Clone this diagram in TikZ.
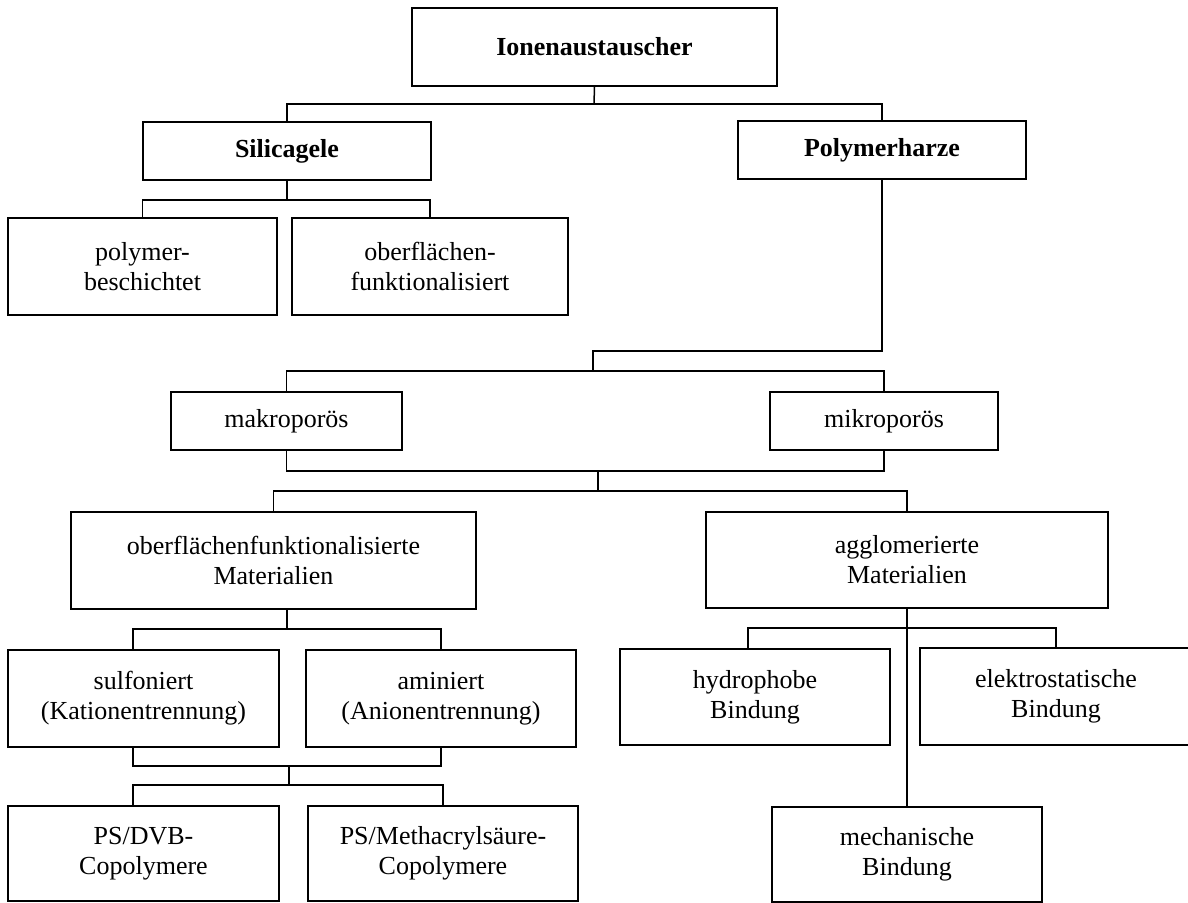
\documentclass[tikz,border=0pt]{standalone}
\usepackage{fontspec}
\setmainfont{Liberation Serif}
\begin{document}
\begin{tikzpicture}[x=1pt,y=-1pt,
  box/.style={draw, line width=1.5pt, inner sep=0pt, align=center,
    font=\fontsize{26}{30}\selectfont},
  conn/.style={line width=1.5pt}]
\useasboundingbox (0,0) rectangle (1188,902);
% nodes
\node[box, font=\fontsize{26}{30}\selectfont\bfseries, minimum width=365, minimum height=78] (ion) at (594.5,47) {Ionenaustauscher};
\node[box, font=\fontsize{26}{30}\selectfont\bfseries, minimum width=288, minimum height=58] (sil) at (287,151) {Silicagele};
\node[box, font=\fontsize{26}{30}\selectfont\bfseries, minimum width=288, minimum height=58] (poly) at (882,150) {Polymerharze};
\node[box, minimum width=269, minimum height=97] (pb) at (142.5,266.5) {polymer-\\beschichtet};
\node[box, minimum width=276, minimum height=97] (of) at (430,266.5) {oberflächen-\\funktionalisiert};
\node[box, minimum width=231, minimum height=58] (makro) at (286.5,421) {makroporös};
\node[box, minimum width=228, minimum height=58] (mikro) at (884,421) {mikroporös};
\node[box, minimum width=405, minimum height=97] (ofm) at (273.5,560.5) {oberflächenfunktionalisierte\\Materialien};
\node[box, minimum width=402, minimum height=96] (agg) at (907,560) {agglomerierte\\Materialien};
\node[box, minimum width=271, minimum height=97] (sulf) at (143.5,698.5) {sulfoniert\\(Kationentrennung)};
\node[box, minimum width=270, minimum height=97] (amin) at (441,698.5) {aminiert\\(Anionentrennung)};
\node[box, minimum width=270, minimum height=96] (hyd) at (755,697) {hydrophobe\\Bindung};
\node[box, minimum width=272, minimum height=97] (elek) at (1056,696.5) {elektrostatische\\Bindung};
\node[box, minimum width=271, minimum height=95] (psd) at (143.5,853.5) {PS/DVB-\\Copolymere};
\node[box, minimum width=270, minimum height=95] (psm) at (443,853.5) {PS/Methacrylsäure-\\Copolymere};
\node[box, minimum width=270, minimum height=95] (mech) at (907,854.5) {mechanische\\Bindung};
% junction coordinates
\coordinate (j1) at (594,104);
\coordinate (j2) at (287,200);
\coordinate (j3) at (593,351);
\coordinate (j4) at (593,371);
\coordinate (j5) at (598,471);
\coordinate (j6) at (598,491);
\coordinate (j7) at (287,629);
\coordinate (j8) at (289,766);
\coordinate (j9) at (289,785);
\coordinate (j10) at (907,628);
\coordinate (x133) at (133,0);
\coordinate (x748) at (748,0);
% connectors
\draw[conn] (ion.south) -- (j1);
\draw[conn] (sil.north) |- (j1) -| (poly.north);
\draw[conn] (sil.south) -- (j2);
\draw[conn] (pb.north) |- (j2) -| (of.north);
\draw[conn] (poly.south) |- (j3) -- (j4);
\draw[conn] (makro.north) |- (j4) -| (mikro.north);
\draw[conn] (makro.south) |- (j5) -| (mikro.south);
\draw[conn] (j5) -- (j6);
\draw[conn] (ofm.north) |- (j6) -| (agg.north);
\draw[conn] (ofm.south -| j7) -- (j7);
\draw[conn] (sulf.north -| x133) |- (j7) -| (amin.north);
\draw[conn] (sulf.south -| x133) |- (j8) -| (amin.south);
\draw[conn] (j8) -- (j9);
\draw[conn] (psd.north -| x133) |- (j9) -| (psm.north);
\draw[conn] (agg.south) -- (mech.north);
\draw[conn] (hyd.north -| x748) |- (j10) -| (elek.north);
\end{tikzpicture}
\end{document}
